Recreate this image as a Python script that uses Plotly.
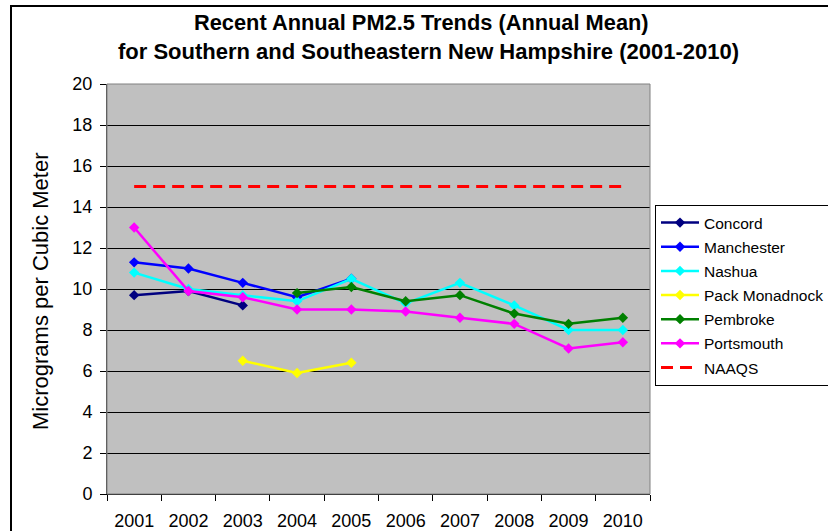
import plotly.graph_objects as go

years = ["2001", "2002", "2003", "2004", "2005", "2006", "2007", "2008", "2009", "2010"]
concord = [9.7, 9.9, 9.2, None, None, None, None, None, None, None]
manchester = [11.3, 11.0, 10.3, 9.6, 10.5, None, None, None, None, None]
nashua = [10.8, 10.0, 9.7, 9.4, 10.5, 9.3, 10.3, 9.2, 8.0, 8.0]
pack_monadnock = [None, None, 6.5, 5.9, 6.4, None, None, None, None, None]
pembroke = [None, None, None, 9.8, 10.1, 9.4, 9.7, 8.8, 8.3, 8.6]
portsmouth = [13.0, 9.9, 9.6, 9.0, 9.0, 8.9, 8.6, 8.3, 7.1, 7.4]
naaqs = [15] * 10

series = [
    ("Concord", concord, "#000080"),
    ("Manchester", manchester, "#0000FF"),
    ("Nashua", nashua, "#00FFFF"),
    ("Pack Monadnock", pack_monadnock, "#FFFF00"),
    ("Pembroke", pembroke, "#008000"),
    ("Portsmouth", portsmouth, "#FF00FF"),
]

fig = go.Figure()
for i, (name, vals, color) in enumerate(series):
    fig.add_trace(go.Scatter(
        x=years, y=vals, name=name, mode="lines+markers",
        line=dict(color=color, width=2.5),
        marker=dict(symbol="diamond", size=8, color=color),
        connectgaps=False, legendgroup=f"g{i}",
    ))
fig.add_trace(go.Scatter(
    x=years, y=naaqs, name="NAAQS", mode="lines",
    line=dict(color="#FF0000", width=3, dash="12px,7px"),
    legendgroup="g9",
))

W, H = 828, 531
L, R, T, B = 107, 178, 84, 37
pw, ph = W - L - R, H - T - B

def px(x):
    return (x - L) / pw

def py(y):
    return (H - B - y) / ph

fig.update_layout(
    width=W, height=H,
    margin=dict(l=L, r=R, t=T, b=B, autoexpand=False),
    paper_bgcolor="white",
    plot_bgcolor="#C0C0C0",
    font=dict(family="Liberation Sans, Arial, sans-serif", color="black"),
    showlegend=True,
    legend=dict(
        xref="container", yref="container",
        x=655 / W, y=1 - 205 / H, xanchor="left", yanchor="top",
        bgcolor="white", bordercolor="black", borderwidth=1,
        font=dict(size=15.5), traceorder="grouped", tracegroupgap=1,
        itemwidth=38,
    ),
    xaxis=dict(
        type="category", range=[-0.5, 9.5], tickson="boundaries", ticks="outside", ticklen=6,
        tickcolor="black", showline=True, linecolor="black", linewidth=1,
        showgrid=False, tickfont=dict(size=18), ticklabelstandoff=10,
        automargin=False,
    ),
    yaxis=dict(
        range=[0, 20], dtick=2, ticks="outside", ticklen=6, tickcolor="black",
        showline=True, linecolor="#404040", linewidth=1,
        showgrid=True, gridcolor="black", gridwidth=1,
        tickfont=dict(size=18), zeroline=False, automargin=False,
        ticklabelstandoff=4,
    ),
    annotations=[
        dict(text="<b>Recent Annual PM2.5 Trends (Annual Mean)</b>", xref="paper", yref="paper",
             x=px(421), y=py(22), xanchor="center", yanchor="middle", showarrow=False,
             font=dict(size=21.8)),
        dict(text="<b>for Southern and Southeastern New Hampshire (2001-2010)</b>", xref="paper", yref="paper",
             x=px(428), y=py(52), xanchor="center", yanchor="middle", showarrow=False,
             font=dict(size=22)),
        dict(text="Micrograms per Cubic Meter", xref="paper", yref="paper",
             x=px(40), y=py(291), xanchor="center", yanchor="middle", showarrow=False,
             textangle=-90, font=dict(size=22)),
    ],
    shapes=[
        dict(type="rect", xref="paper", yref="paper", x0=0, y0=0, x1=1, y1=1,
             line=dict(color="#808080", width=1), layer="above"),
        dict(type="rect", xref="paper", yref="paper", x0=px(11), y0=py(560), x1=px(860), y1=py(6),
             line=dict(color="black", width=2)),
    ],
)

fig.write_html("out.html", config={"displayModeBar": False},
               post_script="document.body.style.margin='0';document.body.style.overflow='hidden';")
